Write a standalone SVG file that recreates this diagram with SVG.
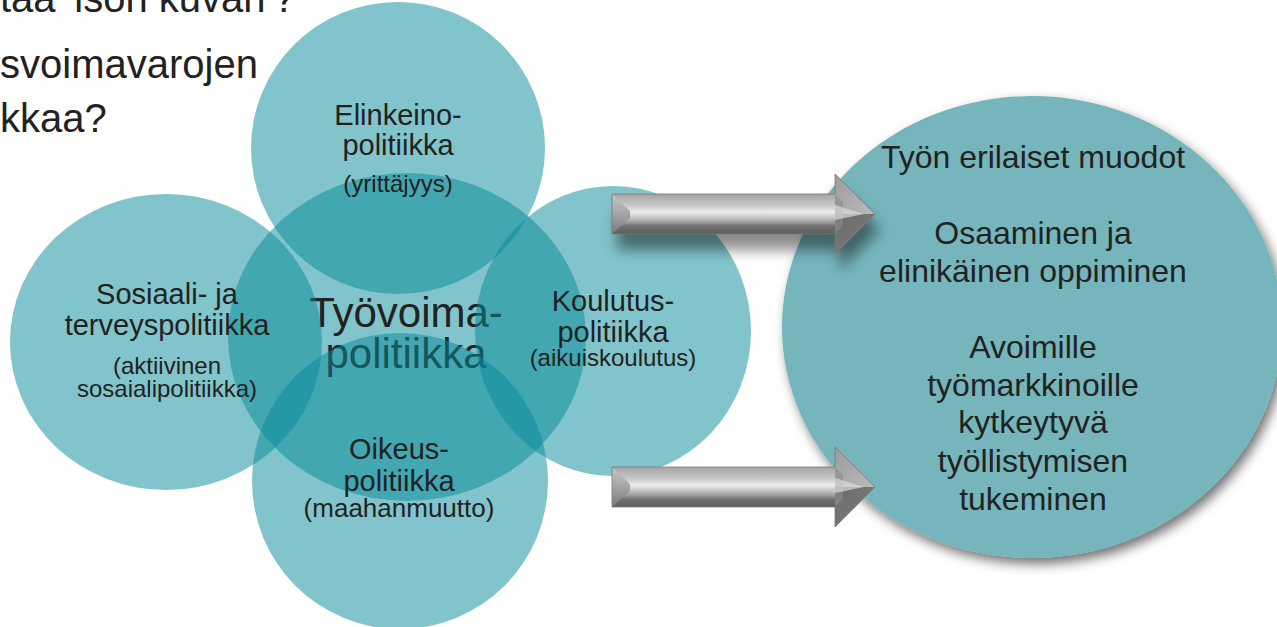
<svg xmlns="http://www.w3.org/2000/svg" xmlns:xlink="http://www.w3.org/1999/xlink" width="1277" height="627" viewBox="0 0 1277 627">
  <defs>
    <style>
      .txt { font-family: "Liberation Sans", Arial, Helvetica, sans-serif; fill: #222; }
      .lbl { text-anchor: middle; }
      .main { font-size: 29px; }
      .sub { font-size: 24px; }
      .core { font-size: 42px; }
      .out { font-size: 32px; }
      .head { font-size: 40px; }
      .bubble { fill: #078c99; fill-opacity: 0.51; }
      .goal { fill: #74b5bb; }
    </style>

    <!-- soft drop shadow for the outcome disc -->
    <filter id="discShadow" x="-10%" y="-10%" width="125%" height="125%">
      <feGaussianBlur in="SourceAlpha" stdDeviation="6"/>
      <feOffset dx="4" dy="6" result="blur"/>
      <feFlood flood-color="#000" flood-opacity="0.55"/>
      <feComposite in2="blur" operator="in"/>
      <feMerge>
        <feMergeNode/>
        <feMergeNode in="SourceGraphic"/>
      </feMerge>
    </filter>

    <!-- shadow only (no source) cast by the upper arrow -->
    <filter id="arrowShadow" x="-20%" y="-60%" width="140%" height="260%">
      <feGaussianBlur in="SourceAlpha" stdDeviation="7"/>
      <feOffset dx="5" dy="16" result="blur"/>
      <feFlood flood-color="#000" flood-opacity="0.45"/>
      <feComposite in2="blur" operator="in"/>
    </filter>

    <linearGradient id="shaftGrad" x1="0" y1="0" x2="0" y2="1">
      <stop offset="0" stop-color="#a3a3a3"/>
      <stop offset="0.12" stop-color="#b4b4b4"/>
      <stop offset="0.3" stop-color="#c9c9c9"/>
      <stop offset="0.45" stop-color="#ececec"/>
      <stop offset="0.56" stop-color="#cdcdcd"/>
      <stop offset="0.7" stop-color="#a0a0a0"/>
      <stop offset="0.8" stop-color="#727272"/>
      <stop offset="1" stop-color="#5e5e5e"/>
    </linearGradient>
    <linearGradient id="endGrad" x1="0" y1="0" x2="0" y2="1">
      <stop offset="0" stop-color="#c6c6c6"/>
      <stop offset="0.5" stop-color="#a4a4a4"/>
      <stop offset="1" stop-color="#7a7a7a"/>
    </linearGradient>
    <linearGradient id="headUp" x1="0" y1="0" x2="1" y2="1">
      <stop offset="0" stop-color="#9c9c9c"/>
      <stop offset="1" stop-color="#b9b9b9"/>
    </linearGradient>
    <linearGradient id="headLo" x1="0" y1="0" x2="1" y2="1">
      <stop offset="0" stop-color="#6a6a6a"/>
      <stop offset="1" stop-color="#808080"/>
    </linearGradient>

    <!-- arrow outline, local origin at the middle of the tail -->
    <path id="arrowOutline" d="M0,-20 H223 V-40 L263,0 L223,40 V20 H0 Z"/>

    <!-- bevelled grey arrow -->
    <g id="bevelArrow">
      <use xlink:href="#arrowOutline" fill="#8a8a8a"/>
      <rect x="0" y="-20" width="226" height="40" fill="url(#shaftGrad)"/>
      <path d="M0,-20 L18,-3 L18,4 L0,20 Z" fill="url(#endGrad)"/>
      <path d="M223,-40 L263,0 L223,0 Z" fill="url(#headUp)"/>
      <path d="M223,0 L263,0 L223,40 Z" fill="url(#headLo)"/>
      <path d="M223,-20 L231,-12 L231,12 L223,20 Z" fill="#8c8c8c" opacity="0.6"/>
      <path d="M223,-9 L252,0 L223,6 Z" fill="#dcdcdc" opacity="0.7"/>
      <use xlink:href="#arrowOutline" fill="none" stroke="#7a7a7a" stroke-width="0.8"/>
    </g>
  </defs>

  <rect width="1277" height="627" fill="#fff"/>

  <!-- heading text, partly outside the frame -->
  <g id="heading" class="txt head">
    <text x="0" y="12">taa 'ison kuvan'?</text>
    <text x="0" y="78">svoimavarojen</text>
    <text x="0" y="132">kkaa?</text>
  </g>

  <!-- central policy field; its caption sits under the neighbouring discs -->
  <g id="node-tyovoima">
    <ellipse class="bubble" cx="407" cy="337" rx="179" ry="164"/>
    <text class="txt lbl core" x="406" y="327">Työvoima-</text>
    <text class="txt lbl core" x="406" y="368">politiikka</text>
  </g>

  <g id="node-sosiaali">
    <ellipse class="bubble" cx="166" cy="342" rx="156" ry="148"/>
    <text class="txt lbl main" x="167" y="304">Sosiaali- ja</text>
    <text class="txt lbl main" x="167" y="335">terveyspolitiikka</text>
    <text class="txt lbl sub" x="167" y="374">(aktiivinen</text>
    <text class="txt lbl sub" x="167" y="397">sosaialipolitiikka)</text>
  </g>

  <g id="node-elinkeino">
    <ellipse class="bubble" cx="398" cy="148" rx="147" ry="146"/>
    <text class="txt lbl main" x="398" y="125">Elinkeino-</text>
    <text class="txt lbl main" x="398" y="155">politiikka</text>
    <text class="txt lbl sub" x="398" y="192">(yrittäjyys)</text>
  </g>

  <g id="node-koulutus">
    <ellipse class="bubble" cx="613" cy="331" rx="138" ry="145"/>
    <text class="txt lbl main" x="613" y="311">Koulutus-</text>
    <text class="txt lbl main" x="613" y="342">politiikka</text>
    <text class="txt lbl sub" x="613" y="366">(aikuiskoulutus)</text>
  </g>

  <g id="node-oikeus">
    <ellipse class="bubble" cx="400" cy="481" rx="148" ry="148"/>
    <text class="txt lbl main" x="399" y="459">Oikeus-</text>
    <text class="txt lbl main" x="399" y="491">politiikka</text>
    <text class="txt lbl sub" x="399" y="517" style="font-size:26px">(maahanmuutto)</text>
  </g>

  <!-- outcome disc -->
  <g id="node-tavoitteet">
    <ellipse class="goal" cx="1032" cy="327" rx="250" ry="231" filter="url(#discShadow)"/>
    <g class="txt lbl out">
      <text x="1033" y="168">Työn erilaiset muodot</text>
      <text x="1033" y="244">Osaaminen ja</text>
      <text x="1033" y="282">elinikäinen oppiminen</text>
      <text x="1033" y="358">Avoimille</text>
      <text x="1033" y="396">työmarkkinoille</text>
      <text x="1033" y="433">kytkeytyvä</text>
      <text x="1033" y="472">työllistymisen</text>
      <text x="1033" y="510">tukeminen</text>
    </g>
  </g>

  <!-- connectors -->
  <g id="connectors">
    <use xlink:href="#arrowOutline" transform="translate(612,214)" fill="#000" filter="url(#arrowShadow)"/>
    <use xlink:href="#bevelArrow" transform="translate(612,214)"/>
    <use xlink:href="#bevelArrow" transform="translate(612,487)"/>
  </g>
</svg>
